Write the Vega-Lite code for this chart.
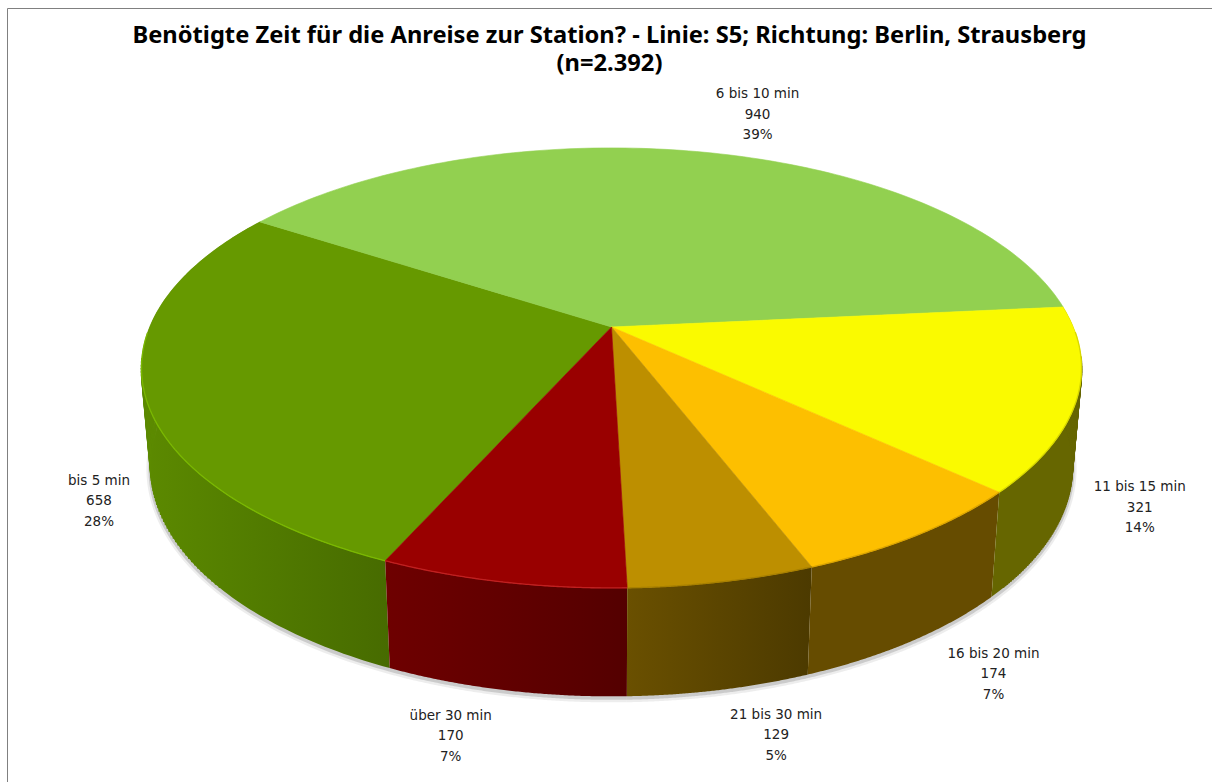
{
"$schema":"https://vega.github.io/schema/vega-lite/v6.json",
"width":1205,"height":774,"autosize":"none",
"padding":{"left":7,"top":8,"right":0,"bottom":0},
"background":"white",
"view":{"stroke":"#808080","strokeWidth":1,"fill":"white"},
"title":{"text":["Benötigte Zeit für die Anreise zur Station? - Linie: S5; Richtung: Berlin, Strausberg","(n=2.392)"],"font":"Noto Sans","fontSize":23.7,"fontWeight":"bold","color":"#000000","anchor":"middle","offset":-68,"lineHeight":28},
"data":{"values":[
{"label":"bis 5 min","count":658,"pct":28},
{"label":"6 bis 10 min","count":940,"pct":39},
{"label":"11 bis 15 min","count":321,"pct":14},
{"label":"16 bis 20 min","count":174,"pct":7},
{"label":"21 bis 30 min","count":129,"pct":5},
{"label":"über 30 min","count":170,"pct":7}
]},
"transform":[
{"window":[{"op":"sum","field":"count","as":"cum"}]},
{"joinaggregate":[{"op":"sum","field":"count","as":"total"}]},
{"calculate":"sequence(0,242)","as":"steps"},
{"flatten":["steps"],"as":["j"]},
{"calculate":"datum.j<=120?datum.j:241-datum.j","as":"k"},
{"calculate":"(204+360*(datum.cum-datum.count+datum.count*datum.k/120)/datum.total)*PI/180","as":"phi"},
{"calculate":"1+0.186*cos(datum.phi)","as":"w"},
{"calculate":"461.8*sin(datum.phi)/datum.w","as":"X"},
{"calculate":"-212.4*cos(datum.phi)/datum.w","as":"Y"},
{"calculate":"datum.X*0.98","as":"Xb"},
{"calculate":"datum.Y*1.04+98","as":"Yb"}
],
"encoding":{
"x":{"field":"px","type":"quantitative","scale":{"domain":[-604.5,600.5],"nice":false,"zero":false},"axis":null},
"y":{"field":"py","type":"quantitative","scale":{"domain":[455,-319],"nice":false,"zero":false},"axis":null}
},
"layer":[
{"transform":[{"filter":"datum.j>120"},{"calculate":"datum.Xb","as":"px"},{"calculate":"datum.Yb+1.5","as":"py"}],
 "mark":{"type":"line","stroke":"#000000","strokeOpacity":0.07,"strokeWidth":9},
 "encoding":{"detail":{"field":"label"},"order":{"field":"k","type":"quantitative"}}},
{"transform":[{"filter":"datum.j>120"},{"calculate":"datum.Xb","as":"px"},{"calculate":"datum.Yb+1","as":"py"}],
 "mark":{"type":"line","stroke":"#000000","strokeOpacity":0.14,"strokeWidth":5},
 "encoding":{"detail":{"field":"label"},"order":{"field":"k","type":"quantitative"}}},
{"transform":[{"filter":"datum.j<=120 && datum.label=='bis 5 min' && cos(datum.phi)>-0.65 && cos(datum.phi)<-0.13"},{"calculate":"datum.X","as":"px"},{"calculate":"datum.Y","as":"py"}],
 "mark":{"type":"rule","stroke":"#5c8a00","strokeWidth":2},
 "encoding":{"x2":{"field":"Xb"},"y2":{"field":"Yb"}}},
{"transform":[{"filter":"datum.j<=120 && datum.label=='11 bis 15 min' && cos(datum.phi)>-0.65 && cos(datum.phi)<-0.13"},{"calculate":"datum.X","as":"px"},{"calculate":"datum.Y","as":"py"}],
 "mark":{"type":"rule","stroke":"#666600","strokeWidth":2},
 "encoding":{"x2":{"field":"Xb"},"y2":{"field":"Yb"}}},
{"transform":[{"filter":"datum.label=='bis 5 min'"},{"calculate":"datum.j<=120?datum.X:datum.Xb","as":"px"},{"calculate":"datum.j<=120?datum.Y:datum.Yb","as":"py"}],
 "mark":{"type":"line","interpolate":"linear-closed","stroke":null,"fill":{"gradient":"linear","x1":0,"y1":0,"x2":1,"y2":0,"stops":[{"offset":0,"color":"#5c8a00"},{"offset":0.45,"color":"#527c00"},{"offset":1,"color":"#476b00"}]}},
 "encoding":{"order":{"field":"j","type":"quantitative"}}},
{"transform":[{"filter":"datum.label=='über 30 min'"},{"calculate":"datum.j<=120?datum.X:datum.Xb","as":"px"},{"calculate":"datum.j<=120?datum.Y:datum.Yb","as":"py"}],
 "mark":{"type":"line","interpolate":"linear-closed","stroke":null,"fill":{"gradient":"linear","x1":0,"y1":0,"x2":1,"y2":0,"stops":[{"offset":0,"color":"#6e0000"},{"offset":1,"color":"#540000"}]}},
 "encoding":{"order":{"field":"j","type":"quantitative"}}},
{"transform":[{"filter":"datum.label=='21 bis 30 min'"},{"calculate":"datum.j<=120?datum.X:datum.Xb","as":"px"},{"calculate":"datum.j<=120?datum.Y:datum.Yb","as":"py"}],
 "mark":{"type":"line","interpolate":"linear-closed","stroke":null,"fill":{"gradient":"linear","x1":0,"y1":0,"x2":1,"y2":0,"stops":[{"offset":0,"color":"#6a5000"},{"offset":1,"color":"#4c3a00"}]}},
 "encoding":{"order":{"field":"j","type":"quantitative"}}},
{"transform":[{"filter":"datum.label=='16 bis 20 min'"},{"calculate":"datum.j<=120?datum.X:datum.Xb","as":"px"},{"calculate":"datum.j<=120?datum.Y:datum.Yb","as":"py"}],
 "mark":{"type":"line","interpolate":"linear-closed","stroke":null,"fill":"#664c00"},
 "encoding":{"order":{"field":"j","type":"quantitative"}}},
{"transform":[{"filter":"datum.label=='11 bis 15 min'"},{"calculate":"datum.j<=120?datum.X:datum.Xb","as":"px"},{"calculate":"datum.j<=120?datum.Y:datum.Yb","as":"py"}],
 "mark":{"type":"line","interpolate":"linear-closed","stroke":null,"fill":"#666600"},
 "encoding":{"order":{"field":"j","type":"quantitative"}}},
{"transform":[{"filter":"datum.j<=121"},{"calculate":"datum.j==121?0:datum.X","as":"px"},{"calculate":"datum.j==121?0:datum.Y","as":"py"}],
 "mark":{"type":"line","interpolate":"linear-closed","strokeWidth":0.6,"fill":"#999"},
 "encoding":{
  "fill":{"field":"label","type":"nominal","legend":null,"scale":{"domain":["bis 5 min","6 bis 10 min","11 bis 15 min","16 bis 20 min","21 bis 30 min","über 30 min"],"range":["#669900","#92d050","#fafa00","#fdbf00","#bd8f00","#990000"]}},
  "stroke":{"field":"label","type":"nominal","legend":null,"scale":{"domain":["bis 5 min","6 bis 10 min","11 bis 15 min","16 bis 20 min","21 bis 30 min","über 30 min"],"range":["#669900","#92d050","#fafa00","#fdbf00","#bd8f00","#990000"]}},
  "order":{"field":"j","type":"quantitative"}}},
{"transform":[{"filter":"datum.j<=120 && cos(datum.phi)<-0.02"},{"calculate":"datum.X","as":"px"},{"calculate":"datum.Y","as":"py"}],
 "mark":{"type":"line","strokeWidth":1.3},
 "encoding":{
  "stroke":{"field":"label","type":"nominal","legend":null,"scale":{"domain":["bis 5 min","11 bis 15 min","16 bis 20 min","21 bis 30 min","über 30 min"],"range":["#7ab800","#d8d800","#dba400","#a88000","#c02020"]}},
  "order":{"field":"k","type":"quantitative"}}},
{"transform":[{"filter":"datum.j==60 && datum.label=='bis 5 min'"},{"calculate":"datum.X","as":"px"},{"calculate":"datum.Y","as":"py"},{"calculate":"[datum.label,''+datum.count,datum.pct+'%']","as":"lines"}],
 "mark":{"type":"text","font":"DejaVu Sans","fontSize":13.5,"color":"#222222","lineHeight":20.5,"align":"center","baseline":"middle","dx":-45,"dy":90},"encoding":{"text":{"field":"lines"}}},
{"transform":[{"filter":"datum.j==60 && datum.label=='6 bis 10 min'"},{"calculate":"datum.X","as":"px"},{"calculate":"datum.Y","as":"py"},{"calculate":"[datum.label,''+datum.count,datum.pct+'%']","as":"lines"}],
 "mark":{"type":"text","font":"DejaVu Sans","fontSize":13.5,"color":"#222222","lineHeight":20.5,"align":"center","baseline":"middle","dx":53,"dy":-58},"encoding":{"text":{"field":"lines"}}},
{"transform":[{"filter":"datum.j==60 && datum.label=='11 bis 15 min'"},{"calculate":"datum.X","as":"px"},{"calculate":"datum.Y","as":"py"},{"calculate":"[datum.label,''+datum.count,datum.pct+'%']","as":"lines"}],
 "mark":{"type":"text","font":"DejaVu Sans","fontSize":13.5,"color":"#222222","lineHeight":20.5,"align":"center","baseline":"middle","dx":63,"dy":88},"encoding":{"text":{"field":"lines"}}},
{"transform":[{"filter":"datum.j==60 && datum.label=='16 bis 20 min'"},{"calculate":"datum.X","as":"px"},{"calculate":"datum.Y","as":"py"},{"calculate":"[datum.label,''+datum.count,datum.pct+'%']","as":"lines"}],
 "mark":{"type":"text","font":"DejaVu Sans","fontSize":13.5,"color":"#222222","lineHeight":20.5,"align":"center","baseline":"middle","dx":76,"dy":119},"encoding":{"text":{"field":"lines"}}},
{"transform":[{"filter":"datum.j==60 && datum.label=='21 bis 30 min'"},{"calculate":"datum.X","as":"px"},{"calculate":"datum.Y","as":"py"},{"calculate":"[datum.label,''+datum.count,datum.pct+'%']","as":"lines"}],
 "mark":{"type":"text","font":"DejaVu Sans","fontSize":13.5,"color":"#222222","lineHeight":20.5,"align":"center","baseline":"middle","dx":54,"dy":133},"encoding":{"text":{"field":"lines"}}},
{"transform":[{"filter":"datum.j==60 && datum.label=='über 30 min'"},{"calculate":"datum.X","as":"px"},{"calculate":"datum.Y","as":"py"},{"calculate":"[datum.label,''+datum.count,datum.pct+'%']","as":"lines"}],
 "mark":{"type":"text","font":"DejaVu Sans","fontSize":13.5,"color":"#222222","lineHeight":20.5,"align":"center","baseline":"middle","dx":-51,"dy":134},"encoding":{"text":{"field":"lines"}}}
],
"resolve":{"scale":{"stroke":"independent","fill":"independent"}}
}
